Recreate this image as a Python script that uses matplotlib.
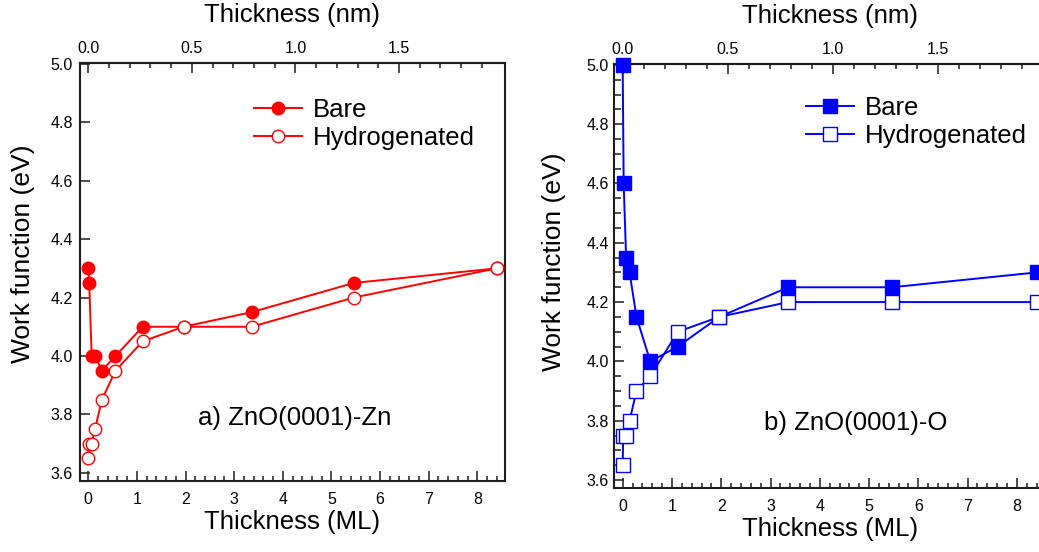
import matplotlib
matplotlib.use("Agg")
import matplotlib.pyplot as plt
from matplotlib.ticker import MultipleLocator, FixedLocator, FormatStrFormatter

plt.rcParams['font.family'] = ['Liberation Sans', 'DejaVu Sans']

# ---- data (thickness in ML, work function in eV) ----
zn_bare_x = [0.0, 0.02, 0.07, 0.14, 0.28, 0.56, 1.12, 1.96, 3.36, 5.46, 8.4]
zn_bare_y = [4.30, 4.25, 4.00, 4.00, 3.95, 4.00, 4.10, 4.10, 4.15, 4.25, 4.30]
zn_hyd_x = [0.0, 0.01, 0.07, 0.14, 0.28, 0.56, 1.12, 1.96, 3.36, 5.46, 8.4]
zn_hyd_y = [3.65, 3.70, 3.70, 3.75, 3.85, 3.95, 4.05, 4.10, 4.10, 4.20, 4.30]

o_bare_x = [0.0, 0.02, 0.07, 0.14, 0.28, 0.56, 1.12, 1.96, 3.36, 5.46, 8.4]
o_bare_y = [5.00, 4.60, 4.35, 4.30, 4.15, 4.00, 4.05, 4.15, 4.25, 4.25, 4.30]
o_hyd_x = [0.0, 0.01, 0.07, 0.14, 0.28, 0.56, 1.12, 1.96, 3.36, 5.46, 8.4]
o_hyd_y = [3.65, 3.75, 3.75, 3.80, 3.90, 3.95, 4.10, 4.15, 4.20, 4.20, 4.20]

series_labels = ["Bare", "Hydrogenated"]
panel_titles = ["a) ZnO(0001)-Zn", "b) ZnO(0001)-O"]
nm_major_ticks = [0.0, 0.5, 1.0, 1.5]
nm_minor_ticks = [0.1, 0.2, 0.3, 0.4, 0.6, 0.7, 0.8, 0.9,
                  1.1, 1.2, 1.3, 1.4, 1.6, 1.7, 1.8, 1.9]
NM_PER_ML = 0.5 / 2.13

W, H = 1039, 552
fig = plt.figure(figsize=(W / 100, H / 100), dpi=100)

def px_axes(l, r, t, b):
    return fig.add_axes([l / W, (H - b) / H, (r - l) / W, (b - t) / H])

spine_col = '#1e1e1e'

def style(ax, ylim, yminor, ypad):
    ax.set_xlim(-0.17, 8.57)
    ax.set_ylim(*ylim)
    for s in ax.spines.values():
        s.set_linewidth(1.5)
        s.set_color(spine_col)
    ax.xaxis.set_major_locator(MultipleLocator(1))
    ax.xaxis.set_minor_locator(MultipleLocator(0.2))
    ax.yaxis.set_major_locator(MultipleLocator(0.2))
    ax.yaxis.set_major_formatter(FormatStrFormatter('%.1f'))
    if yminor:
        ax.yaxis.set_minor_locator(MultipleLocator(0.05))
    else:
        ax.yaxis.set_minor_locator(plt.NullLocator())
    ax.tick_params(which='both', direction='in', top=False, right=False,
                   color=spine_col, width=1.1, labelsize=11.5)
    ax.tick_params(axis='x', which='major', length=7.5, pad=8)
    ax.tick_params(axis='x', which='minor', length=3.5)
    ax.tick_params(axis='y', which='major', length=7.5, pad=ypad)
    ax.tick_params(axis='y', which='minor', length=5)
    sec = ax.secondary_xaxis('top', functions=(lambda x: x * NM_PER_ML,
                                               lambda x: x / NM_PER_ML))
    sec.xaxis.set_major_locator(FixedLocator(nm_major_ticks))
    sec.xaxis.set_minor_locator(FixedLocator(nm_minor_ticks))
    sec.xaxis.set_major_formatter(FormatStrFormatter('%.1f'))
    sec.tick_params(which='both', direction='in', color=spine_col, width=1.1,
                    labelsize=11.5)
    sec.tick_params(which='major', length=7.5, pad=5)
    sec.tick_params(which='minor', length=3.5)
    sec.spines['top'].set_linewidth(1.5)
    sec.spines['top'].set_color(spine_col)
    sec.set_xlabel('Thickness (nm)', fontsize=18.5, labelpad=14)
    ax.set_xlabel('Thickness (ML)', fontsize=18.5, labelpad=2)
    ax.set_ylabel('Work function (eV)', fontsize=19)

leg_kw = dict(loc='upper left', frameon=False, fontsize=18.5,
              handlelength=1.87, handletextpad=0.43, labelspacing=0.175,
              borderpad=0, borderaxespad=0)

# ---- left panel ----
ax1 = px_axes(80, 505, 63, 481)
red = '#ff0000'
ax1.plot(zn_bare_x, zn_bare_y, '-o', color=red, lw=1.4, ms=9,
         mfc=red, mec=red, label=series_labels[0], zorder=3)
ax1.plot(zn_hyd_x, zn_hyd_y, '-o', color=red, lw=1.4, ms=9,
         mfc='white', mec=red, mew=1.0, label=series_labels[1], zorder=4)
style(ax1, (3.572, 5.003), False, 5)
ax1.yaxis.set_label_coords(-0.105, 0.544)
ax1.legend(bbox_to_anchor=(0.409, 0.917), **leg_kw)
ax1.text(0.506, 0.151, panel_titles[0], transform=ax1.transAxes,
         ha='center', va='center', fontsize=18.5)

# ---- right panel ----
ax2 = px_axes(614.3, 1045, 64, 487.7)
blue = '#0000ff'
ax2.plot(o_bare_x, o_bare_y, '-s', color=blue, lw=1.4, ms=9.5,
         mfc=blue, mec=blue, label=series_labels[0], zorder=3)
ax2.plot(o_hyd_x, o_hyd_y, '-s', color=blue, lw=1.4, ms=9.5,
         mfc='white', mec=blue, mew=1.0, label=series_labels[1], zorder=4)
style(ax2, (3.574, 5.003), True, 4)
ax2.yaxis.set_label_coords(-0.112, 0.534)
ax2.legend(bbox_to_anchor=(0.444, 0.925), **leg_kw)
ax2.text(0.560, 0.153, panel_titles[1], transform=ax2.transAxes,
         ha='center', va='center', fontsize=18.5)

for ax in (ax1, ax2):
    for l in ax.get_lines():
        l.set_clip_on(False)

fig.savefig('out.png', dpi=100)
